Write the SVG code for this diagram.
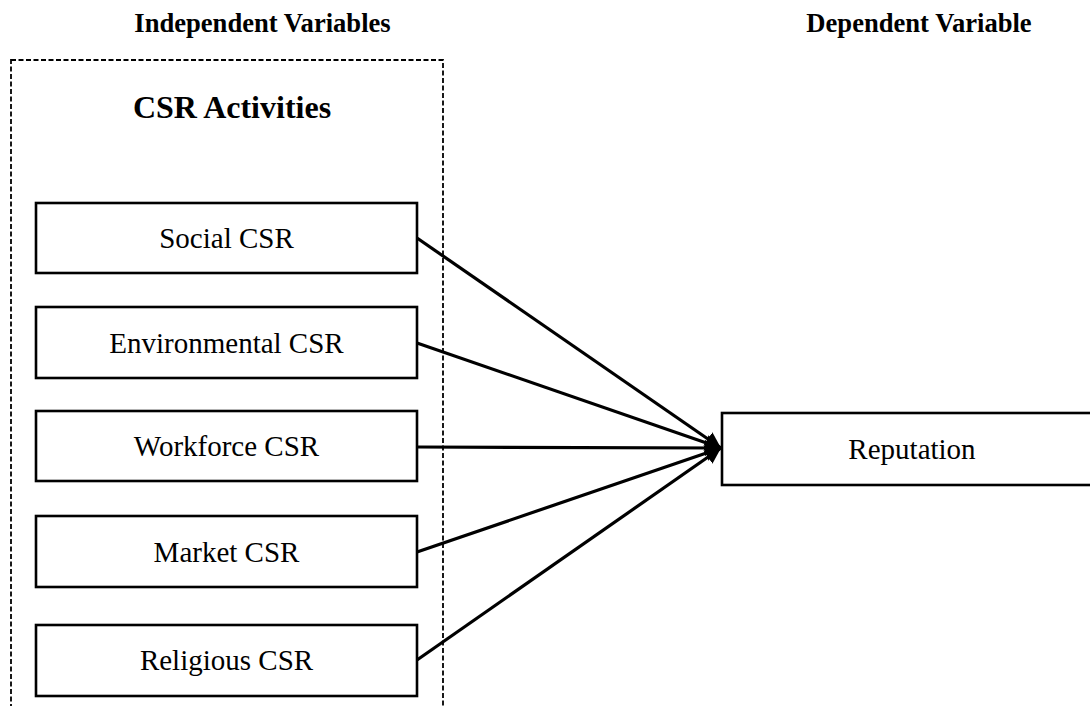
<svg xmlns="http://www.w3.org/2000/svg" width="1090" height="706" viewBox="0 0 1090 706">
  <style>
    .heading { font-family: "Liberation Serif", "Times New Roman", serif; font-weight: bold; font-size: 26.6px; fill: #000; text-anchor: middle; }
    .group-title { font-family: "Liberation Serif", "Times New Roman", serif; font-weight: bold; font-size: 32px; fill: #000; text-anchor: middle; }
    .label { font-family: "Liberation Serif", "Times New Roman", serif; font-size: 29px; fill: #000; text-anchor: middle; }
    .box { fill: #fff; stroke: #000; stroke-width: 2.6; }
    .frame { fill: none; stroke: #000; stroke-width: 1.8; stroke-dasharray: 5 2.5; }
    .link { fill: none; stroke: #000; stroke-width: 3.2; marker-end: url(#arrow); }
  </style>
  <defs>
    <marker id="arrow" viewBox="0 0 10 10" refX="10" refY="5" markerUnits="userSpaceOnUse" markerWidth="16" markerHeight="16" orient="auto">
      <path d="M0,0 L10,5 L0,10 z" fill="#000"/>
    </marker>
  </defs>
  <rect width="1090" height="706" fill="#fff"/>

  <!-- column headings -->
  <text class="heading" x="262.5" y="32">Independent Variables</text>
  <text class="heading" x="919" y="32">Dependent Variable</text>

  <!-- dashed frame around the CSR activities -->
  <g id="csr-activities">
    <rect class="frame" x="11" y="60" width="432" height="680"/>
    <text class="group-title" x="232" y="118">CSR Activities</text>
  </g>

  <g id="social-csr">
    <rect class="box" x="36" y="203" width="381" height="70"/>
    <text class="label" x="226.5" y="248">Social CSR</text>
  </g>
  <g id="environmental-csr">
    <rect class="box" x="36" y="307" width="381" height="71"/>
    <text class="label" x="226.5" y="353">Environmental CSR</text>
  </g>
  <g id="workforce-csr">
    <rect class="box" x="36" y="411" width="381" height="70"/>
    <text class="label" x="226.5" y="456">Workforce CSR</text>
  </g>
  <g id="market-csr">
    <rect class="box" x="36" y="516" width="381" height="71"/>
    <text class="label" x="226.5" y="562">Market CSR</text>
  </g>
  <g id="religious-csr">
    <rect class="box" x="36" y="625" width="381" height="71"/>
    <text class="label" x="226.5" y="670">Religious CSR</text>
  </g>

  <g id="reputation">
    <rect class="box" x="722" y="413" width="381" height="72"/>
    <text class="label" x="912" y="459">Reputation</text>
  </g>

  <!-- arrows into Reputation -->
  <g id="connectors">
    <line class="link" x1="417" y1="238" x2="721" y2="448"/>
    <line class="link" x1="417" y1="343" x2="721" y2="448"/>
    <line class="link" x1="417" y1="447" x2="721" y2="448"/>
    <line class="link" x1="417" y1="552" x2="721" y2="448"/>
    <line class="link" x1="417" y1="660" x2="721" y2="448"/>
  </g>
</svg>
